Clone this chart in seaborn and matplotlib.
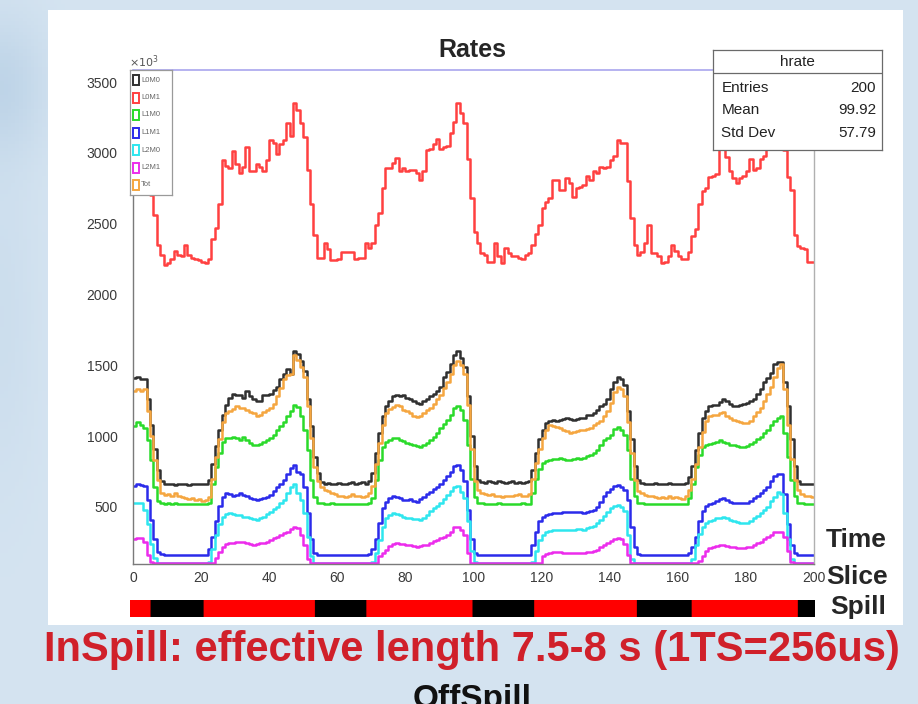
import numpy as np
import pandas as pd
import matplotlib
matplotlib.use("Agg")
import matplotlib.pyplot as plt
from matplotlib import font_manager
from matplotlib.patches import Rectangle
from matplotlib.colors import ListedColormap
from matplotlib.ticker import MultipleLocator
import seaborn as sns

# ---------------------------------------------------------------- data
series_names = ["L0M0", "L0M1", "L1M0", "L1M1", "L2M0", "L2M1", "Tot"]

l0m0 = [1410, 1420, 1400, 1400, 1260, 1080, 910, 760, 680, 665,
        660, 665, 655, 660, 665, 660, 655, 660, 665, 660,
        660, 665, 690, 800, 930, 1040, 1150, 1220, 1270, 1300,
        1290, 1290, 1270, 1320, 1280, 1260, 1245, 1250, 1290, 1290,
        1300, 1325, 1350, 1400, 1440, 1475, 1440, 1600, 1580, 1530,
        1460, 1260, 1070, 850, 740, 675, 665, 670, 660, 665,
        670, 660, 665, 670, 675, 665, 670, 675, 665, 680,
        740, 880, 1020, 1140, 1210, 1250, 1280, 1290, 1280, 1290,
        1270, 1260, 1245, 1235, 1230, 1250, 1260, 1280, 1300, 1320,
        1350, 1420, 1455, 1510, 1570, 1600, 1550, 1490, 1280, 1000,
        790, 690, 675, 670, 680, 675, 670, 680, 675, 670,
        675, 680, 670, 675, 670, 675, 680, 760, 880, 980,
        1040, 1090, 1110, 1115, 1110, 1115, 1120, 1125, 1120, 1115,
        1120, 1125, 1130, 1150, 1150, 1165, 1185, 1210, 1230, 1265,
        1335, 1380, 1420, 1400, 1360, 1180, 980, 790, 690, 670,
        665, 660, 665, 670, 660, 665, 660, 670, 665, 660,
        665, 660, 670, 710, 790, 900, 1020, 1130, 1180, 1215,
        1220, 1220, 1240, 1260, 1245, 1225, 1215, 1210, 1220, 1225,
        1235, 1245, 1260, 1300, 1330, 1380, 1410, 1445, 1510, 1525,
        1525, 1380, 1210, 980, 790, 680, 660, 665, 660, 665]

l0m1 = [2950, 3000, 2960, 2920, 2850, 2700, 2560, 2350, 2280, 2210,
        2220, 2250, 2310, 2280, 2270, 2350, 2280, 2260, 2250, 2240,
        2230, 2220, 2250, 2390, 2470, 2640, 2950, 2910, 2890, 3010,
        2920, 2860, 2900, 3040, 2870, 2870, 2920, 2900, 2870, 2950,
        3090, 3070, 2990, 3060, 3090, 3210, 3120, 3350, 3300, 3210,
        3110, 2880, 2640, 2420, 2260, 2260, 2360, 2320, 2240, 2240,
        2250, 2300, 2300, 2300, 2300, 2250, 2255, 2255, 2360, 2330,
        2361, 2490, 2573, 2750, 2890, 2890, 2926, 2961, 2870, 2890,
        2870, 2880, 2880, 2860, 2808, 2870, 3020, 3030, 3060, 3100,
        3030, 3040, 3050, 3140, 3220, 3350, 3280, 3210, 2960, 2680,
        2440, 2360, 2290, 2280, 2230, 2230, 2360, 2270, 2220, 2330,
        2290, 2270, 2270, 2260, 2250, 2280, 2290, 2350, 2430, 2490,
        2610, 2650, 2680, 2810, 2810, 2740, 2740, 2820, 2790, 2690,
        2750, 2760, 2770, 2840, 2810, 2870, 2860, 2900, 2890, 2900,
        2950, 2980, 3090, 3070, 3070, 2800, 2540, 2350, 2280, 2300,
        2360, 2490, 2290, 2290, 2270, 2220, 2230, 2270, 2350, 2310,
        2270, 2250, 2250, 2300, 2410, 2460, 2640, 2730, 2750, 2830,
        2840, 2850, 3050, 3050, 2970, 2870, 2820, 2790, 2820, 2840,
        2870, 2960, 2880, 2890, 2960, 2980, 3030, 3090, 3160, 3240,
        3200, 3020, 2830, 2740, 2420, 2340, 2330, 2320, 2230, 2230]

l1m0 = [1070, 1100, 1080, 1060, 970, 830, 640, 540, 525, 520,
        525, 520, 525, 520, 518, 522, 520, 518, 520, 522,
        520, 518, 530, 660, 780, 880, 960, 985, 990, 995,
        990, 975, 995, 970, 950, 940, 935, 945, 960, 970,
        985, 1010, 1040, 1070, 1100, 1140, 1175, 1220, 1205, 1140,
        1040, 900, 690, 570, 530, 525, 522, 520, 525, 518,
        520, 522, 520, 518, 522, 520, 518, 522, 520, 525,
        560, 690, 830, 920, 960, 975, 985, 990, 975, 965,
        950, 945, 937, 930, 926, 935, 950, 970, 995, 1025,
        1055, 1085, 1115, 1150, 1195, 1210, 1185, 1115, 940, 700,
        570, 530, 525, 520, 522, 518, 520, 525, 520, 518,
        522, 520, 518, 520, 525, 520, 522, 600, 700, 770,
        810, 825, 830, 835, 840, 843, 838, 832, 830, 838,
        845, 840, 845, 860, 866, 880, 900, 940, 975, 990,
        1010, 1050, 1065, 1045, 1010, 900, 700, 580, 530, 525,
        520, 518, 522, 520, 518, 520, 522, 520, 518, 520,
        522, 518, 520, 560, 660, 780, 870, 920, 935, 945,
        950, 960, 975, 960, 950, 940, 935, 930, 926, 925,
        928, 945, 960, 980, 996, 1020, 1045, 1075, 1105, 1130,
        1140, 1020, 850, 690, 575, 530, 525, 520, 522, 520]

l1m1 = [650, 660, 655, 645, 550, 410, 270, 180, 165, 160,
        162, 158, 160, 162, 160, 158, 160, 162, 160, 158,
        160, 162, 200, 290, 400, 510, 570, 595, 590, 575,
        585, 596, 585, 575, 560, 555, 550, 555, 560, 570,
        585, 610, 640, 665, 690, 730, 775, 795, 750, 735,
        640, 455, 270, 175, 160, 160, 162, 158, 160, 162,
        160, 158, 160, 162, 160, 158, 160, 162, 160, 165,
        200, 270, 385, 490, 535, 565, 575, 573, 565, 550,
        552, 553, 545, 537, 555, 573, 590, 608, 625, 643,
        665, 690, 720, 750, 790, 795, 760, 680, 480, 270,
        175, 162, 160, 158, 160, 162, 160, 158, 160, 162,
        160, 158, 160, 162, 160, 158, 160, 230, 320, 400,
        430, 445, 450, 455, 455, 460, 462, 465, 467, 465,
        462, 465, 460, 465, 470, 480, 500, 535, 575, 605,
        630, 650, 655, 643, 620, 550, 360, 220, 170, 160,
        162, 158, 160, 162, 160, 158, 160, 162, 160, 158,
        160, 162, 160, 175, 220, 290, 400, 470, 505, 520,
        530, 540, 555, 560, 548, 537, 530, 526, 525, 526,
        526, 540, 560, 578, 596, 620, 643, 680, 715, 735,
        730, 590, 380, 230, 175, 162, 160, 158, 160, 162]

l2m0 = [525, 530, 525, 480, 380, 240, 140, 105, 105, 105,
        105, 105, 105, 105, 105, 105, 105, 105, 105, 105,
        105, 105, 110, 200, 300, 380, 430, 450, 455, 450,
        445, 440, 432, 428, 420, 415, 410, 420, 430, 450,
        467, 485, 502, 525, 550, 600, 640, 665, 600, 550,
        460, 290, 150, 105, 105, 105, 105, 105, 105, 105,
        105, 105, 105, 105, 105, 105, 105, 105, 105, 105,
        110, 175, 265, 360, 420, 445, 455, 450, 443, 430,
        420, 420, 418, 412, 408, 425, 443, 468, 490, 508,
        526, 555, 584, 615, 643, 648, 608, 560, 400, 190,
        108, 105, 105, 105, 105, 105, 105, 105, 105, 105,
        105, 105, 105, 105, 105, 105, 105, 108, 190, 265,
        300, 320, 330, 335, 337, 338, 336, 337, 338, 340,
        342, 345, 340, 348, 355, 362, 385, 410, 435, 465,
        490, 510, 514, 502, 470, 300, 130, 105, 105, 105,
        105, 105, 105, 105, 105, 105, 105, 105, 105, 105,
        105, 105, 105, 105, 130, 230, 310, 360, 390, 400,
        410, 420, 425, 431, 420, 408, 400, 396, 390, 386,
        384, 400, 420, 438, 455, 480, 502, 540, 573, 605,
        590, 460, 270, 130, 105, 105, 105, 105, 105, 105]

l2m1 = [275, 280, 278, 250, 160, 110, 105, 105, 105, 105,
        105, 105, 105, 105, 105, 105, 105, 105, 105, 105,
        105, 105, 105, 105, 140, 185, 220, 240, 245, 243,
        250, 255, 250, 243, 238, 231, 236, 243, 248, 255,
        265, 278, 290, 302, 315, 325, 345, 360, 350, 300,
        230, 130, 105, 105, 105, 105, 105, 105, 105, 105,
        105, 105, 105, 105, 105, 105, 105, 105, 105, 105,
        105, 105, 150, 175, 196, 225, 235, 243, 240, 236,
        231, 228, 224, 220, 225, 228, 231, 245, 258, 267,
        278, 290, 305, 325, 355, 360, 337, 300, 175, 105,
        105, 105, 105, 105, 105, 105, 105, 105, 105, 105,
        105, 105, 105, 105, 105, 105, 105, 105, 105, 105,
        150, 170, 178, 184, 182, 180, 178, 176, 175, 174,
        172, 173, 175, 180, 185, 190, 196, 215, 232, 245,
        260, 275, 280, 275, 240, 160, 105, 105, 105, 105,
        105, 105, 105, 105, 105, 105, 105, 105, 105, 105,
        105, 105, 105, 105, 105, 105, 120, 150, 190, 210,
        220, 225, 231, 228, 222, 220, 215, 210, 208, 212,
        218, 220, 232, 244, 255, 270, 285, 300, 320, 325,
        320, 290, 190, 110, 105, 105, 105, 105, 105, 105]

tot = [1320, 1330, 1320, 1330, 1180, 1000, 830, 690, 600, 585,
       590, 580, 595, 575, 570, 560, 555, 560, 550, 555,
       545, 550, 570, 700, 850, 980, 1100, 1160, 1180, 1190,
       1210, 1200, 1195, 1185, 1170, 1160, 1145, 1150, 1170, 1185,
       1200, 1230, 1280, 1340, 1400, 1430, 1440, 1570, 1540, 1490,
       1420, 1210, 990, 780, 680, 640, 620, 610, 595, 590,
       580, 575, 570, 575, 590, 575, 580, 570, 575, 600,
       650, 800, 950, 1080, 1160, 1190, 1205, 1220, 1210, 1185,
       1175, 1160, 1145, 1135, 1140, 1160, 1185, 1200, 1230, 1260,
       1290, 1340, 1385, 1440, 1500, 1530, 1500, 1440, 1220, 910,
       680, 620, 600, 590, 585, 590, 580, 575, 570, 575,
       580, 575, 585, 590, 575, 580, 590, 700, 810, 910,
       990, 1040, 1075, 1070, 1065, 1055, 1045, 1035, 1020, 1030,
       1035, 1040, 1045, 1050, 1060, 1075, 1090, 1110, 1140, 1180,
       1235, 1310, 1350, 1335, 1280, 1100, 880, 690, 610, 595,
       585, 580, 575, 570, 565, 570, 560, 575, 565, 570,
       560, 555, 575, 620, 700, 800, 920, 1030, 1110, 1140,
       1150, 1150, 1165, 1170, 1140, 1125, 1115, 1110, 1100, 1095,
       1090, 1110, 1140, 1170, 1200, 1250, 1300, 1350, 1420, 1480,
       1510, 1330, 1080, 840, 690, 620, 590, 580, 575, 570]

series_values = [l0m0, l0m1, l1m0, l1m1, l2m0, l2m1, tot]

# in-spill / off-spill intervals along the time-slice axis
spill_edges = [0, 6, 21.5, 54, 69, 100, 118, 148, 164, 195, 200]
spill_flags = [1, 0, 1, 0, 1, 0, 1, 0, 1, 0]

stat_labels = ["Entries", "Mean", "Std Dev"]
stat_values = ["200", "99.92", "57.79"]

x_ticks = list(range(0, 201, 20))
y_ticks = list(range(500, 3501, 500))

# ---------------------------------------------------------------- style
series_colors = {"L0M0": "#303030", "L0M1": "#ff4040", "L1M0": "#2ada2a",
                 "L1M1": "#2b2bea", "L2M0": "#2ee6ee", "L2M1": "#ec2cec",
                 "Tot": "#f5a640"}

sns.set_style("white")
names = {f.name for f in font_manager.fontManager.ttflist}
narrow = "Liberation Sans Narrow" if "Liberation Sans Narrow" in names else "Liberation Sans"
plt.rcParams["font.family"] = [narrow, "DejaVu Sans"]

W, H = 918, 704


def fx(px):
    return px / W


def fy(py):
    return 1 - py / H


fig = plt.figure(figsize=(W / 100, H / 100), dpi=100)
fig.patch.set_facecolor("#d5e4f1")

# slide background: pale blue with a darker sweep on the left edge
bg = fig.add_axes([0, 0, 1, 1], zorder=-10)
gx = np.linspace(0, 1, 240)
gy = np.linspace(0, 1, 200)
GX, GY = np.meshgrid(gx, gy)
shade = np.exp(-((GX - 0.0) / 0.05) ** 2 - ((GY - 0.12) / 0.1) ** 2) * 0.6 \
    + np.exp(-((GX - 0.0) / 0.04) ** 2 - ((GY - 0.45) / 0.25) ** 2) * 0.25
base = np.array([0.835, 0.894, 0.945])
dark = np.array([0.70, 0.80, 0.89])
img = base[None, None, :] * (1 - shade[..., None]) + dark[None, None, :] * shade[..., None]
bg.imshow(img, extent=(0, 1, 0, 1), aspect="auto", origin="upper")
bg.axis("off")

fig.add_artist(Rectangle((fx(48), fy(625)), fx(903 - 48), (625 - 10) / H,
                         transform=fig.transFigure, facecolor="white",
                         edgecolor="none", zorder=-5))

# ---------------------------------------------------------------- main plot
ax = fig.add_axes([fx(133), fy(564), fx(681), 494 / H])
frames = []
for name, vals in zip(series_names, series_values):
    v = np.asarray(vals, dtype=float)
    frames.append(pd.DataFrame({"slice": np.arange(v.size + 1),
                                "rate": np.append(v, v[-1]),
                                "channel": name}))
df = pd.concat(frames, ignore_index=True)

sns.lineplot(data=df, x="slice", y="rate", hue="channel",
             hue_order=series_names, palette=series_colors,
             estimator=None, sort=False, drawstyle="steps-post",
             linewidth=1.8, legend=False, ax=ax)

ax.set_xlim(0, 200)
ax.set_ylim(97, 3585)
ax.set_xlabel("")
ax.set_ylabel("")
ax.set_xticks(x_ticks)
ax.set_yticks(y_ticks)
ax.xaxis.set_minor_locator(MultipleLocator(4))
ax.yaxis.set_minor_locator(MultipleLocator(100))
ax.tick_params(axis="both", which="both", direction="in", colors="#8a8a8a",
               labelcolor="#3a3a3a", labelsize=10, width=0.8)
ax.tick_params(axis="y", which="major", length=14, pad=11)
ax.tick_params(axis="y", which="minor", length=7)
ax.tick_params(axis="x", which="major", length=10, pad=5)
ax.tick_params(axis="x", which="minor", length=5)
for side in ("left", "bottom"):
    ax.spines[side].set_color("#7a7a7a")
    ax.spines[side].set_linewidth(1.0)
ax.spines["top"].set_color("#a9a6ee")
ax.spines["top"].set_linewidth(1.2)
ax.spines["right"].set_color("#b0b0b0")
ax.spines["right"].set_linewidth(1.0)

fig.text(fx(472), fy(50), "Rates", ha="center", va="center",
         fontsize=18, fontweight="bold", family=["Liberation Sans", "DejaVu Sans"])
fig.text(fx(129), fy(62), r"$\times10^{3}$", ha="left", va="center",
         fontsize=8, color="#555555")

# ---------------------------------------------------------------- legend panel
lax = fig.add_axes([fx(130), fy(195), fx(42), 125 / H])
lax.set_xlim(0, 42)
lax.set_ylim(125, 0)
lax.set_xticks([])
lax.set_yticks([])
for s in lax.spines.values():
    s.set_color("#9a9a9a")
    s.set_linewidth(0.9)
for i, name in enumerate(series_names):
    yc = 10 + i * 17.5
    lax.add_patch(Rectangle((3, yc - 5), 6, 10, facecolor="none",
                            edgecolor=series_colors[name], linewidth=1.4))
    lax.text(11, yc, name, fontsize=5.5, color="#666666", va="center", ha="left")

# ---------------------------------------------------------------- statistics box
sax = fig.add_axes([fx(713), fy(150), fx(169), 100 / H])
sax.set_xlim(0, 1)
sax.set_ylim(0, 1)
sax.set_xticks([])
sax.set_yticks([])
for s in sax.spines.values():
    s.set_color("#6a6a6a")
    s.set_linewidth(0.9)
sax.axhline(0.77, color="#6a6a6a", linewidth=0.9)
sax.text(0.5, 0.885, "hrate", ha="center", va="center", fontsize=11, color="#222222")
for row, (lab, val) in enumerate(zip(stat_labels, stat_values)):
    yy = 0.62 - row * 0.225
    sax.text(0.05, yy, lab, ha="left", va="center", fontsize=11, color="#222222")
    sax.text(0.965, yy, val, ha="right", va="center", fontsize=11, color="#222222")

# ---------------------------------------------------------------- spill bar
pax = fig.add_axes([fx(130), fy(617), fx(685), 17 / H])
grid = np.arange(0, 200, 0.25) + 0.125
flags = np.zeros_like(grid)
for lo, hi, f in zip(spill_edges[:-1], spill_edges[1:], spill_flags):
    flags[(grid >= lo) & (grid < hi)] = f
pax.imshow(flags[np.newaxis, :], aspect="auto", extent=(0, 200, 0, 1),
           cmap=ListedColormap(["#000000", "#ff0000"]), vmin=0, vmax=1,
           interpolation="bilinear")
pax.set_xlim(0, 200)
pax.axis("off")

# ---------------------------------------------------------------- annotations
bold_narrow = [narrow, "DejaVu Sans"]
for word, px, py in (("Time", 826, 540), ("Slice", 826, 577), ("Spill", 830, 607)):
    fig.text(fx(px), fy(py), word, ha="left", va="center", fontsize=19,
             fontweight="bold", family=bold_narrow)
fig.text(fx(472), fy(650), "InSpill: effective length 7.5-8 s (1TS=256us)",
         ha="center", va="center", fontsize=30, fontweight="bold",
         color="#d0202a", family=bold_narrow)
fig.text(fx(472), fy(684), "OffSpill", ha="center", va="top", fontsize=24,
         fontweight="bold", color="#111111", family=bold_narrow)

fig.savefig("out.png", dpi=100, facecolor=fig.get_facecolor())
